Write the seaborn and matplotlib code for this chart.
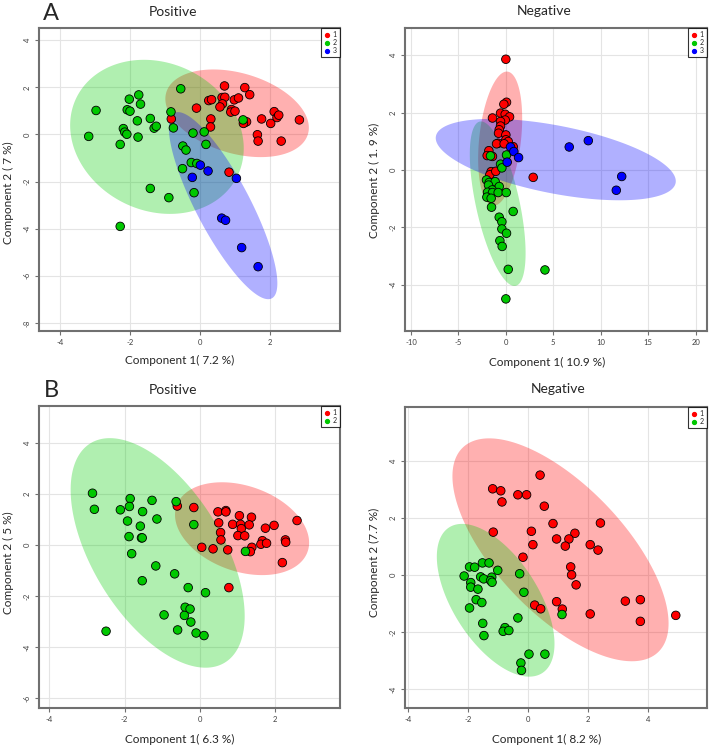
import numpy as np
import pandas as pd
import matplotlib.pyplot as plt
import seaborn as sns
from matplotlib.lines import Line2D

sns.set_style("white")
plt.rcParams['font.family'] = ['Lato', 'DejaVu Sans']

# ==============================
# DATA
# ==============================

# --- A / Positive ---
a_pos_1_x = [-0.82, -0.10, 0.25, 0.33, 0.31, 0.30, 0.70, 0.63, 0.71, 0.64, 0.57, 0.90, 0.88, 1.00, 0.98,
             1.10, 1.28, 1.42, 1.28, 1.33, 1.24, 1.76, 1.64, 1.66, 2.02, 2.12, 2.20, 2.25, 2.32, 2.84, 0.83]
a_pos_1_y = [0.66, 1.12, 1.44, 1.48, 0.66, 0.32, 2.06, 1.57, 1.58, 1.30, 1.17, 1.06, 0.95, 0.99, 1.47,
             1.55, 1.99, 1.69, 0.51, 0.54, 0.47, 0.66, -0.01, -0.28, 0.47, 0.97, 0.72, 0.82, -0.28, 0.62, -1.60]
a_pos_2_x = [-0.55, -2.97, -3.18, -1.75, -2.02, -1.70, -2.08, -2.00, -1.79, -2.19, -2.15, -2.09, -1.77, -1.42,
             -1.31, -1.25, -2.28, -0.83, -0.76, -0.20, 0.12, 0.17, -0.49, -0.40, -0.25, -0.09, -0.50, -0.17,
             -1.42, -0.89, -2.28, 1.23]
a_pos_2_y = [1.94, 1.02, -0.08, 1.68, 1.50, 1.29, 1.05, 0.99, 0.58, 0.25, 0.10, 0.01, -0.11, 0.68,
             0.27, 0.35, -0.42, 0.96, 0.28, 0.06, 0.11, -0.42, -0.49, -0.66, -1.19, -1.23, -1.45, -2.47,
             -2.29, -2.68, -3.90, 0.62]
a_pos_3_x = [0.01, -0.22, 0.23, 1.04, 0.62, 0.73, 1.19, 1.66]
a_pos_3_y = [-1.30, -1.82, -1.55, -1.86, -3.55, -3.64, -4.80, -5.61]

# --- A / Negative ---
a_neg_1_x = [0.00, 0.07, -0.21, -0.56, -0.07, 0.39, -1.41, -0.07, -0.56, -0.56, -0.70, -0.77, 0.00, 0.00,
             0.25, -0.81, -0.98, -0.18, 0.77, -1.79, -1.97, -1.41, -1.55, -1.69, -1.06, 2.88]
a_neg_1_y = [3.86, 2.36, 2.29, 1.98, 1.94, 1.85, 1.81, 1.74, 1.69, 1.53, 1.40, 1.28, 1.22, 1.05,
             0.99, 0.93, 0.91, 0.91, 0.81, 0.67, 0.50, 0.47, -0.06, -0.17, -0.05, -0.26]
a_neg_2_x = [-1.62, 0.07, -0.56, -0.42, -2.04, -1.76, -1.13, -1.83, -0.70, -1.44, -1.93, -1.41, -0.81, 0.04,
             -2.00, -1.55, -1.51, 0.77, -0.70, -0.42, -0.42, 0.07, -0.63, -0.39, 0.25, 4.12, 0.00]
a_neg_2_y = [0.49, 0.52, 0.20, 0.07, -0.35, -0.44, -0.41, -0.53, -0.58, -0.70, -0.78, -0.79, -0.79, -0.79,
             -0.95, -0.99, -1.30, -1.45, -1.65, -1.81, -2.06, -2.21, -2.47, -2.67, -3.47, -3.49, -4.50]
a_neg_3_x = [0.49, 0.84, 0.14, 1.34, 6.68, 8.69, 11.64, 12.21]
a_neg_3_y = [0.80, 0.64, 0.27, 0.43, 0.80, 1.02, -0.71, -0.23]

# --- B / Positive ---
b_pos_1_x = [-0.60, -0.16, 0.48, 0.69, 0.69, 1.05, 1.37, 0.50, 0.87, 1.08, 1.31, 1.97, 2.58, 1.10, 1.74, 0.55,
             1.01, 1.19, 0.56, 0.05, 0.35, 0.74, 1.38, 1.34, 1.66, 1.62, 1.77, 2.27, 2.28, 2.19, 0.77]
b_pos_1_y = [1.54, 1.48, 1.31, 1.36, 1.31, 1.16, 1.10, 0.88, 0.82, 0.82, 0.80, 0.78, 0.97, 0.65, 0.67, 0.50,
             0.38, 0.37, 0.21, -0.08, -0.14, -0.18, -0.08, -0.25, 0.18, 0.04, 0.08, 0.21, 0.12, -0.68, -1.66]
b_pos_2_x = [-2.85, -2.80, -2.11, -1.85, -1.87, -1.27, -0.63, -1.52, -1.14, -1.92, -1.58, -1.88, -1.55, -1.53,
             -0.16, -1.81, -1.17, -0.67, -1.53, -0.31, 0.15, -0.39, -0.26, -0.95, -0.41, -0.24, -0.59, -0.10,
             0.11, -2.49, 1.21]
b_pos_2_y = [2.04, 1.41, 1.39, 1.83, 1.52, 1.76, 1.71, 1.32, 1.03, 0.95, 0.75, 0.34, 0.29, 0.29,
             0.81, -0.33, -0.81, -1.12, -1.39, -1.66, -1.86, -2.43, -2.50, -2.73, -2.75, -3.01, -3.32, -3.44,
             -3.54, -3.37, -0.24]

# --- B / Negative ---
b_neg_1_x = [0.41, -1.17, -0.90, -0.33, -0.04, -0.86, 0.55, 0.84, 2.42, -1.15, 0.12, 1.57, 0.96, 1.37, 0.17, 1.25,
             2.08, 2.34, -0.16, 1.43, 1.46, 1.61, 0.96, 3.25, 3.75, 3.75, 0.23, 0.43, 1.15, 2.08, 4.93]
b_neg_1_y = [3.50, 3.02, 2.95, 2.81, 2.81, 2.56, 2.41, 1.80, 1.82, 1.50, 1.53, 1.46, 1.26, 1.26, 1.06, 1.01,
             1.06, 0.87, 0.62, 0.28, 0.00, -0.35, -0.94, -0.92, -0.87, -1.63, -1.06, -1.19, -1.20, -1.37, -1.42]
b_neg_2_x = [-2.12, -1.94, -1.77, -1.51, -1.29, -1.00, -0.27, -1.57, -1.47, -1.20, -1.24, -1.19, -1.90, -1.90, -1.66,
             -0.13, -1.72, -1.53, -1.94, -0.33, 1.14, -1.50, -0.76, -0.82, -0.63, -1.46, 0.04, 0.57, -0.23, -0.21]
b_neg_2_y = [-0.04, 0.28, 0.27, 0.42, 0.42, 0.16, 0.04, -0.07, -0.14, -0.08, -0.20, -0.26, -0.27, -0.43, -0.50,
             -0.61, -0.87, -0.97, -1.16, -1.51, -1.39, -1.70, -1.85, -1.98, -1.95, -2.13, -2.78, -2.78, -3.09, -3.35]

# ellipses: centre x, centre y, half extent x, half extent y, correlation
a_pos_ell = {"1": (1.06, 0.90, 2.05, 1.86, -0.33), "2": (-1.23, -0.10, 2.48, 3.27, -0.15),
             "3": (0.66, -3.02, 1.55, 3.97, -0.83)}
a_neg_ell = {"1": (-0.60, 1.09, 2.32, 2.34, 0.30), "2": (-0.86, -1.18, 2.94, 2.87, -0.60),
             "3": (5.26, 0.36, 12.65, 1.42, -0.53)}
b_pos_ell = {"1": (1.12, 0.65, 1.78, 1.82, -0.30), "2": (-1.12, -0.30, 2.31, 4.50, -0.55)}
b_neg_ell = {"1": (1.09, 0.88, 3.60, 3.91, -0.66), "2": (-1.07, -0.89, 1.96, 2.68, -0.57)}

point_colors = {"1": "#FF0000", "2": "#00C800", "3": "#0000FF"}
fill_colors = {"1": "#FF0000", "2": "#00CC00", "3": "#0000FF"}

# ==============================
# FIGURE
# ==============================

W, H = 709, 747
fig = plt.figure(figsize=(W / 100, H / 100), dpi=100)


def add_axes_px(left, top, right, bottom):
    return fig.add_axes([left / W, 1 - bottom / H, (right - left) / W, (bottom - top) / H])


def ellipse_xy(cx, cy, hx, hy, rho):
    t = np.linspace(0, 2 * np.pi, 200)
    ex = cx + hx * np.cos(t)
    ey = cy + hy * (rho * np.cos(t) + np.sqrt(1 - rho ** 2) * np.sin(t))
    return ex, ey


def draw_panel(ax, groups, ellipses, xlim, ylim, xticks, yticks):
    frames = []
    for name, (gx, gy) in groups.items():
        frames.append(pd.DataFrame({"x": gx, "y": gy, "group": name}))
    df = pd.concat(frames, ignore_index=True)

    for name in groups:
        ex, ey = ellipse_xy(*ellipses[name])
        ax.fill(ex, ey, color=fill_colors[name], alpha=0.31, lw=0, zorder=1)

    sns.scatterplot(data=df, x="x", y="y", hue="group", palette=point_colors,
                    edgecolor="black", linewidth=0.6, s=38, legend=False, ax=ax, zorder=3)

    ax.set_xlim(xlim)
    ax.set_ylim(ylim)
    ax.set_xticks(xticks)
    ax.set_yticks(yticks)
    ax.set_xticklabels([str(v) for v in xticks])
    ax.set_yticklabels([str(v) for v in yticks], rotation=90, va="center")
    ax.grid(True, color="#E4E4E4", lw=0.8, zorder=0)
    ax.set_axisbelow(True)
    ax.tick_params(length=3, width=0.8, color="#707070", labelsize=5.5, labelcolor="#404040", pad=3,
                   left=True, bottom=True)
    for sp in ax.spines.values():
        sp.set_color("#707070")
        sp.set_linewidth(1.5)
    ax.set_xlabel("")
    ax.set_ylabel("")

    handles = [Line2D([], [], marker="o", ls="", markersize=2.8, color=point_colors[n], label=n)
               for n in groups]
    leg = ax.legend(handles=handles, loc="upper right", borderaxespad=0, fontsize=5,
                    frameon=True, fancybox=False, handlelength=0.6, handletextpad=0.6,
                    borderpad=0.45, labelspacing=0.15)
    leg.get_frame().set_edgecolor("black")
    leg.get_frame().set_linewidth(0.8)


ax1 = add_axes_px(39, 28, 340, 331)
draw_panel(ax1, {"1": (a_pos_1_x, a_pos_1_y), "2": (a_pos_2_x, a_pos_2_y), "3": (a_pos_3_x, a_pos_3_y)},
           a_pos_ell, (-4.6, 4.0), (-8.34, 4.52), [-4, -2, 0, 2], [-8, -6, -4, -2, 0, 2, 4])

ax2 = add_axes_px(405, 28, 707, 331)
draw_panel(ax2, {"1": (a_neg_1_x, a_neg_1_y), "2": (a_neg_2_x, a_neg_2_y), "3": (a_neg_3_x, a_neg_3_y)},
           a_neg_ell, (-10.63, 21.2), (-5.62, 4.95), [-10, -5, 0, 5, 10, 15, 20], [-4, -2, 0, 2, 4])

ax3 = add_axes_px(39, 406, 340, 708)
draw_panel(ax3, {"1": (b_pos_1_x, b_pos_1_y), "2": (b_pos_2_x, b_pos_2_y)},
           b_pos_ell, (-4.27, 3.72), (-6.38, 5.46), [-4, -2, 0, 2], [-6, -4, -2, 0, 2, 4])

ax4 = add_axes_px(405, 407, 707, 708)
draw_panel(ax4, {"1": (b_neg_1_x, b_neg_1_y), "2": (b_neg_2_x, b_neg_2_y)},
           b_neg_ell, (-4.09, 5.97), (-4.67, 5.89), [-4, -2, 0, 2, 4], [-4, -2, 0, 2, 4])

# ==============================
# TEXT
# ==============================


def ftext(x, y, s, **kw):
    fig.text(x / W, 1 - y / H, s, ha="center", va="center", **kw)


ftext(51, 13, "A", fontsize=17)
ftext(51, 390, "B", fontsize=17)

ftext(173, 12, "Positive", fontsize=10)
ftext(544, 11, "Negative", fontsize=10)
ftext(173, 390, "Positive", fontsize=10)
ftext(558, 389, "Negative", fontsize=10)

ftext(180, 360, "Component 1( 7.2 %)", fontsize=8.5)
ftext(547, 362, "Component 1( 10.9 %)", fontsize=8.5)
ftext(180, 739, "Component 1( 6.3 %)", fontsize=8.5)
ftext(547, 739, "Component 1( 8.2 %)", fontsize=8.5)

ftext(8, 193, "Component 2 ( 7 %)", fontsize=8.5, rotation=90)
ftext(374, 180, "Component 2 ( 1. 9 %)", fontsize=8.5, rotation=90)
ftext(8, 563, "Component 2 ( 5 %)", fontsize=8.5, rotation=90)
ftext(374, 562, "Component 2 (7.7 %)", fontsize=8.5, rotation=90)

fig.savefig("out.png", dpi=100)
